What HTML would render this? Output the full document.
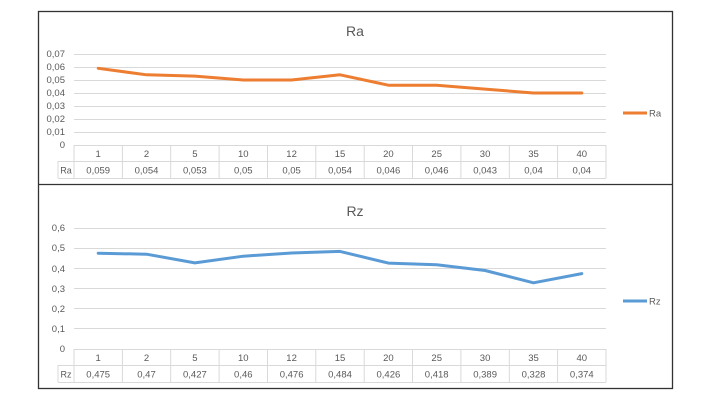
<!DOCTYPE html>
<html><head><meta charset="utf-8"><style>
html,body{margin:0;padding:0;background:#fff;}
svg{display:block;font-family:"Liberation Sans",sans-serif;}
</style></head><body>
<svg width="711" height="400" viewBox="0 0 711 400">
<rect x="38.5" y="11.5" width="634" height="377" fill="#fff" stroke="#333" stroke-width="1.3"/>
<line x1="38" y1="184.5" x2="673" y2="184.5" stroke="#333" stroke-width="1.3"/>
<g stroke="#d9d9d9" stroke-width="1">
<line x1="74" y1="132.5" x2="606" y2="132.5"/><line x1="74" y1="119.5" x2="606" y2="119.5"/><line x1="74" y1="106.5" x2="606" y2="106.5"/><line x1="74" y1="93.5" x2="606" y2="93.5"/><line x1="74" y1="80.5" x2="606" y2="80.5"/><line x1="74" y1="67.5" x2="606" y2="67.5"/><line x1="74" y1="54.5" x2="606" y2="54.5"/>
<line x1="74" y1="328.5" x2="606" y2="328.5"/><line x1="74" y1="308.5" x2="606" y2="308.5"/><line x1="74" y1="288.5" x2="606" y2="288.5"/><line x1="74" y1="268.5" x2="606" y2="268.5"/><line x1="74" y1="248.5" x2="606" y2="248.5"/><line x1="74" y1="228.5" x2="606" y2="228.5"/>
<!-- Ra table -->
<path d="M74 145.5H606M58 161.5H606M58 178.5H606M58 161V178M74 145V178M122.4 145V178M170.7 145V178M219.1 145V178M267.5 145V178M315.8 145V178M364.2 145V178M412.5 145V178M460.9 145V178M509.3 145V178M557.6 145V178M606 145V178" fill="none"/>
<!-- Rz table -->
<path d="M74 349.5H606M58 365.5H606M58 382.5H606M58 365V382M74 349V382M122.4 349V382M170.7 349V382M219.1 349V382M267.5 349V382M315.8 349V382M364.2 349V382M412.5 349V382M460.9 349V382M509.3 349V382M557.6 349V382M606 349V382" fill="none"/>
</g>
<g font-size="9.5" fill="#595959" text-anchor="end">
<text x="65" y="148">0</text><text x="65" y="135">0,01</text><text x="65" y="122">0,02</text><text x="65" y="109">0,03</text><text x="65" y="96">0,04</text><text x="65" y="83">0,05</text><text x="65" y="70">0,06</text><text x="65" y="57">0,07</text>
<text x="65" y="352">0</text><text x="65" y="332">0,1</text><text x="65" y="312">0,2</text><text x="65" y="292">0,3</text><text x="65" y="272">0,4</text><text x="65" y="251">0,5</text><text x="65" y="231">0,6</text>
</g>
<g font-size="9.5" fill="#595959" text-anchor="middle">
<text x="98.2" y="157">1</text><text x="146.5" y="157">2</text><text x="194.9" y="157">5</text><text x="243.3" y="157">10</text><text x="291.6" y="157">12</text><text x="340" y="157">15</text><text x="388.4" y="157">20</text><text x="436.7" y="157">25</text><text x="485.1" y="157">30</text><text x="533.5" y="157">35</text><text x="581.8" y="157">40</text>
<text x="66" y="173.5" font-size="9">Ra</text>
<text x="98.2" y="173.5">0,059</text><text x="146.5" y="173.5">0,054</text><text x="194.9" y="173.5">0,053</text><text x="243.3" y="173.5">0,05</text><text x="291.6" y="173.5">0,05</text><text x="340" y="173.5">0,054</text><text x="388.4" y="173.5">0,046</text><text x="436.7" y="173.5">0,046</text><text x="485.1" y="173.5">0,043</text><text x="533.5" y="173.5">0,04</text><text x="581.8" y="173.5">0,04</text>
<text x="98.2" y="361">1</text><text x="146.5" y="361">2</text><text x="194.9" y="361">5</text><text x="243.3" y="361">10</text><text x="291.6" y="361">12</text><text x="340" y="361">15</text><text x="388.4" y="361">20</text><text x="436.7" y="361">25</text><text x="485.1" y="361">30</text><text x="533.5" y="361">35</text><text x="581.8" y="361">40</text>
<text x="66" y="377.5" font-size="9">Rz</text>
<text x="98.2" y="377.5">0,475</text><text x="146.5" y="377.5">0,47</text><text x="194.9" y="377.5">0,427</text><text x="243.3" y="377.5">0,46</text><text x="291.6" y="377.5">0,476</text><text x="340" y="377.5">0,484</text><text x="388.4" y="377.5">0,426</text><text x="436.7" y="377.5">0,418</text><text x="485.1" y="377.5">0,389</text><text x="533.5" y="377.5">0,328</text><text x="581.8" y="377.5">0,374</text>
<text x="355" y="36" font-size="14">Ra</text>
<text x="355" y="216" font-size="14">Rz</text>
</g>
<polyline points="98.2,68.3 146.5,74.8 194.9,76.1 243.3,80 291.6,80 340,74.8 388.4,85.2 436.7,85.2 485.1,89.1 533.5,93 581.8,93" fill="none" stroke="#ed7d31" stroke-width="3" stroke-linejoin="round" stroke-linecap="round"/>
<polyline points="98.2,253.2 146.5,254.2 194.9,262.9 243.3,256.2 291.6,253 340,251.4 388.4,263.1 436.7,264.7 485.1,270.5 533.5,282.8 581.8,273.6" fill="none" stroke="#5b9bd5" stroke-width="3" stroke-linejoin="round" stroke-linecap="round"/>
<line x1="623" y1="113" x2="647" y2="113" stroke="#ed7d31" stroke-width="3"/>
<text x="649" y="116.5" font-size="9.5" fill="#595959">Ra</text>
<line x1="623" y1="301" x2="647" y2="301" stroke="#5b9bd5" stroke-width="3"/>
<text x="649" y="304.5" font-size="9.5" fill="#595959">Rz</text>
</svg>
</body></html>
